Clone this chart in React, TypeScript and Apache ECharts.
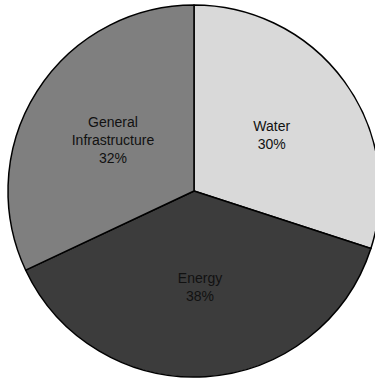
import React, { useEffect, useRef } from "react";
import * as echarts from "echarts";

// Share of spending by sector
const categories = ["Water", "Energy", "General Infrastructure"];
const shares = [30, 38, 32];
const sliceColors = ["#d9d9d9", "#3c3c3c", "#7f7f7f"];

export default function App() {
  const ref = useRef<HTMLDivElement>(null);

  useEffect(() => {
    if (!ref.current) return;
    const chart = echarts.init(ref.current, undefined, { renderer: "svg" });
    chart.setOption({
      animation: false,
      backgroundColor: "#ffffff",
      series: [
        {
          type: "pie",
          center: [194, 191],
          radius: 186,
          startAngle: 90,
          clockwise: true,
          silent: true,
          data: categories.map((name, i) => ({
            name,
            value: shares[i],
            itemStyle: { color: sliceColors[i] },
          })),
          itemStyle: { borderColor: "#000000", borderWidth: 1.5 },
          label: {
            show: true,
            position: "inside",
            color: "#111111",
            fontFamily: "Liberation Sans, Arial, sans-serif",
            fontSize: 14,
            lineHeight: 18,
            align: "center",
            formatter: (p: any) =>
              p.name.split(" ").join("\n") + "\n" + Math.round(p.percent) + "%",
          },
          labelLine: { show: false },
          emphasis: { disabled: true },
        },
      ],
    });
    return () => chart.dispose();
  }, []);

  return (
    <div
      ref={ref}
      style={{ position: "absolute", left: 0, top: 0, width: 375, height: 381 }}
    />
  );
}
